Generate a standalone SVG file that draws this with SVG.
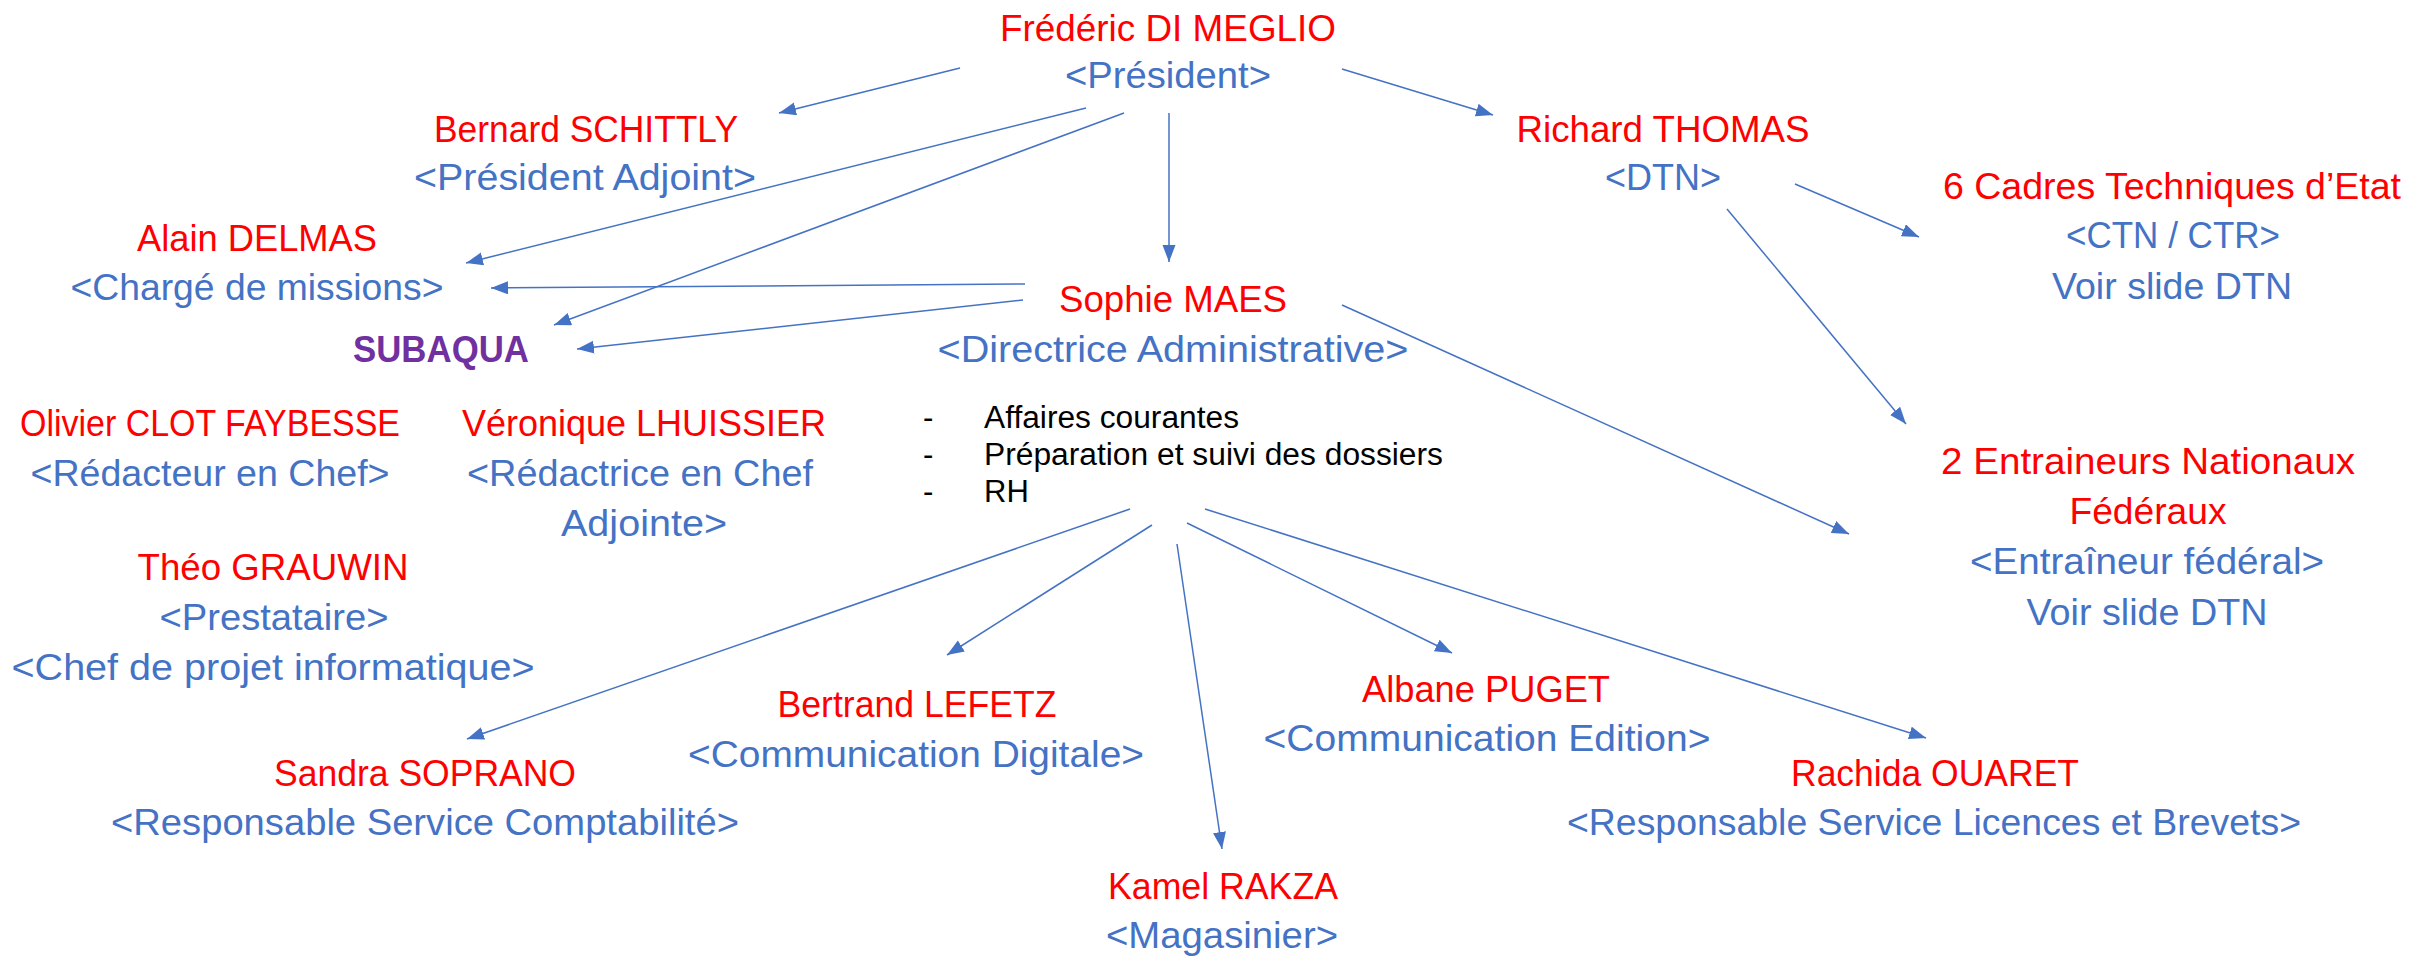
<svg xmlns="http://www.w3.org/2000/svg" width="2412" height="958" viewBox="0 0 2412 958">
<style>
text{font-family:"Liberation Sans",Arial,sans-serif;font-size:37px;text-anchor:middle}
.n{fill:#FF0000}
.t{fill:#4472C4}
.p{fill:#7030A0;font-weight:bold}
.b{fill:#000000;font-size:31px;text-anchor:start}
.c line{stroke:#4472C4;stroke-width:1.5;fill:none}
</style>
<defs>
<marker id="ah" markerUnits="userSpaceOnUse" markerWidth="18" markerHeight="14" refX="17" refY="6.5" orient="auto">
<path d="M0,0 L17,6.5 L0,13 z" fill="#4472C4"/>
</marker>
</defs>
<rect width="2412" height="958" fill="#FFFFFF"/>
<g class="c" id="connectors">
<line x1="960" y1="68" x2="779" y2="113" marker-end="url(#ah)"/>
<line x1="1342" y1="69" x2="1493" y2="115" marker-end="url(#ah)"/>
<line x1="1086" y1="108" x2="466" y2="263" marker-end="url(#ah)"/>
<line x1="1124" y1="113" x2="554" y2="325" marker-end="url(#ah)"/>
<line x1="1169" y1="113" x2="1169" y2="262" marker-end="url(#ah)"/>
<line x1="1025" y1="284" x2="491" y2="288" marker-end="url(#ah)"/>
<line x1="1023" y1="300" x2="577" y2="349" marker-end="url(#ah)"/>
<line x1="1342" y1="305" x2="1849" y2="534" marker-end="url(#ah)"/>
<line x1="1795" y1="184" x2="1919" y2="237" marker-end="url(#ah)"/>
<line x1="1727" y1="209" x2="1906" y2="424" marker-end="url(#ah)"/>
<line x1="1130" y1="509" x2="467" y2="739" marker-end="url(#ah)"/>
<line x1="1152" y1="525" x2="947" y2="655" marker-end="url(#ah)"/>
<line x1="1177" y1="544" x2="1222" y2="849" marker-end="url(#ah)"/>
<line x1="1187" y1="523" x2="1452" y2="653" marker-end="url(#ah)"/>
<line x1="1205" y1="509" x2="1926" y2="738" marker-end="url(#ah)"/>
</g>
<g id="president"><text class="n" x="1168" y="41" textLength="336" lengthAdjust="spacingAndGlyphs">Frédéric DI MEGLIO</text><text class="t" x="1168" y="88" textLength="206" lengthAdjust="spacingAndGlyphs">&lt;Président&gt;</text></g>
<g id="president-adjoint"><text class="n" x="586" y="142" textLength="304" lengthAdjust="spacingAndGlyphs">Bernard SCHITTLY</text><text class="t" x="585" y="190" textLength="342" lengthAdjust="spacingAndGlyphs">&lt;Président Adjoint&gt;</text></g>
<g id="dtn"><text class="n" x="1663" y="142" textLength="293" lengthAdjust="spacingAndGlyphs">Richard THOMAS</text><text class="t" x="1663" y="190" textLength="116" lengthAdjust="spacingAndGlyphs">&lt;DTN&gt;</text></g>
<g id="cadres"><text class="n" x="2172" y="199" textLength="458" lengthAdjust="spacingAndGlyphs">6 Cadres Techniques d’Etat</text><text class="t" x="2173" y="248" textLength="214" lengthAdjust="spacingAndGlyphs">&lt;CTN / CTR&gt;</text><text class="t" x="2172" y="299" textLength="240" lengthAdjust="spacingAndGlyphs">Voir slide DTN</text></g>
<g id="charge-missions"><text class="n" x="257" y="251" textLength="240" lengthAdjust="spacingAndGlyphs">Alain DELMAS</text><text class="t" x="257" y="300" textLength="373" lengthAdjust="spacingAndGlyphs">&lt;Chargé de missions&gt;</text></g>
<g id="subaqua"><text class="p" x="441" y="362" textLength="176" lengthAdjust="spacingAndGlyphs">SUBAQUA</text></g>
<g id="directrice"><text class="n" x="1173" y="312" textLength="228" lengthAdjust="spacingAndGlyphs">Sophie MAES</text><text class="t" x="1173" y="362" textLength="471" lengthAdjust="spacingAndGlyphs">&lt;Directrice Administrative&gt;</text></g>
<g id="missions">
<text class="b" x="923" y="428">-</text><text class="b" x="984" y="428" textLength="255" lengthAdjust="spacingAndGlyphs">Affaires courantes</text>
<text class="b" x="923" y="465">-</text><text class="b" x="984" y="465" textLength="459" lengthAdjust="spacingAndGlyphs">Préparation et suivi des dossiers</text>
<text class="b" x="923" y="502">-</text><text class="b" x="984" y="502">RH</text>
</g>
<g id="redacteur"><text class="n" x="210" y="436" textLength="380" lengthAdjust="spacingAndGlyphs">Olivier CLOT FAYBESSE</text><text class="t" x="210" y="486" textLength="359" lengthAdjust="spacingAndGlyphs">&lt;Rédacteur en Chef&gt;</text></g>
<g id="redactrice"><text class="n" x="644" y="436" textLength="364" lengthAdjust="spacingAndGlyphs">Véronique LHUISSIER</text><text class="t" x="640" y="486" textLength="346" lengthAdjust="spacingAndGlyphs">&lt;Rédactrice en Chef</text><text class="t" x="644" y="536" textLength="166" lengthAdjust="spacingAndGlyphs">Adjointe&gt;</text></g>
<g id="prestataire"><text class="n" x="273" y="580" textLength="271" lengthAdjust="spacingAndGlyphs">Théo GRAUWIN</text><text class="t" x="274" y="630" textLength="229" lengthAdjust="spacingAndGlyphs">&lt;Prestataire&gt;</text><text class="t" x="273" y="680" textLength="523" lengthAdjust="spacingAndGlyphs">&lt;Chef de projet informatique&gt;</text></g>
<g id="entraineurs"><text class="n" x="2148" y="474" textLength="414" lengthAdjust="spacingAndGlyphs">2 Entraineurs Nationaux</text><text class="n" x="2148" y="524" textLength="157" lengthAdjust="spacingAndGlyphs">Fédéraux</text><text class="t" x="2147" y="574" textLength="354" lengthAdjust="spacingAndGlyphs">&lt;Entraîneur fédéral&gt;</text><text class="t" x="2147" y="625" textLength="241" lengthAdjust="spacingAndGlyphs">Voir slide DTN</text></g>
<g id="comm-digitale"><text class="n" x="917" y="717" textLength="279" lengthAdjust="spacingAndGlyphs">Bertrand LEFETZ</text><text class="t" x="916" y="767" textLength="456" lengthAdjust="spacingAndGlyphs">&lt;Communication Digitale&gt;</text></g>
<g id="comm-edition"><text class="n" x="1486" y="702" textLength="248" lengthAdjust="spacingAndGlyphs">Albane PUGET</text><text class="t" x="1487" y="751" textLength="447" lengthAdjust="spacingAndGlyphs">&lt;Communication Edition&gt;</text></g>
<g id="comptabilite"><text class="n" x="425" y="786" textLength="302" lengthAdjust="spacingAndGlyphs">Sandra SOPRANO</text><text class="t" x="425" y="835" textLength="628" lengthAdjust="spacingAndGlyphs">&lt;Responsable Service Comptabilité&gt;</text></g>
<g id="licences"><text class="n" x="1935" y="786" textLength="288" lengthAdjust="spacingAndGlyphs">Rachida OUARET</text><text class="t" x="1934" y="835" textLength="734" lengthAdjust="spacingAndGlyphs">&lt;Responsable Service Licences et Brevets&gt;</text></g>
<g id="magasinier"><text class="n" x="1223" y="899" textLength="230" lengthAdjust="spacingAndGlyphs">Kamel RAKZA</text><text class="t" x="1222" y="948" textLength="232" lengthAdjust="spacingAndGlyphs">&lt;Magasinier&gt;</text></g>
</svg>
